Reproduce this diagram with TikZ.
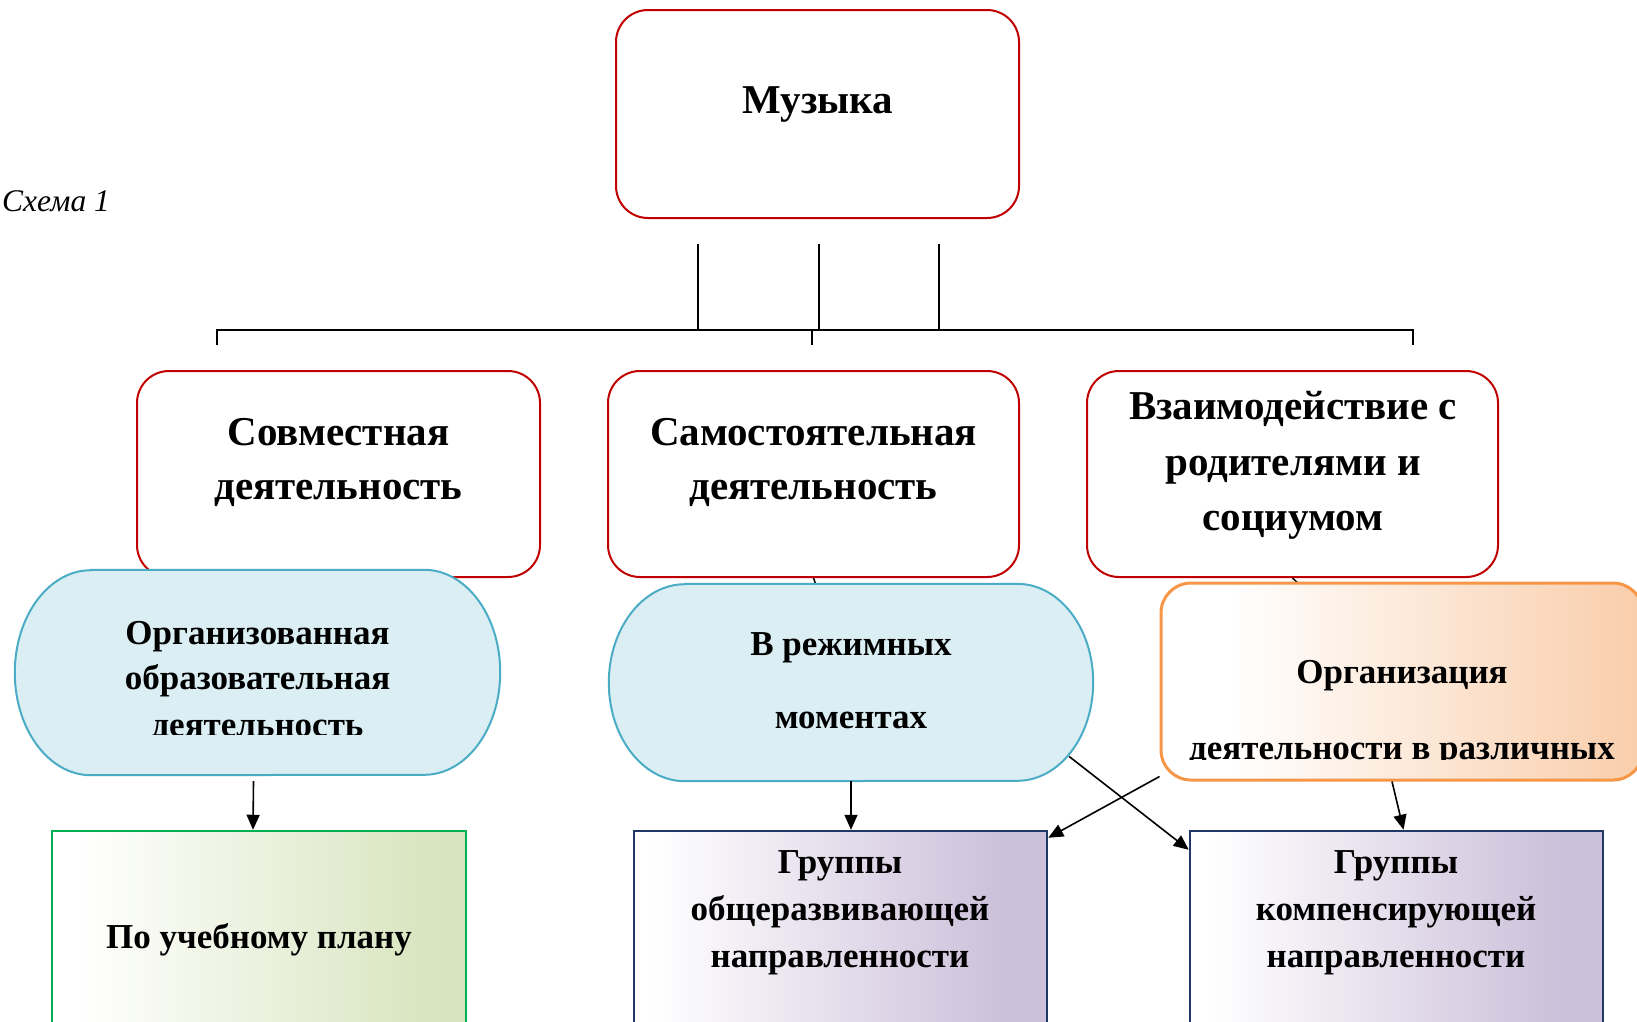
\documentclass[tikz,border=0pt]{standalone}
\usepackage{fontspec}
\setmainfont{Liberation Serif}
\usetikzlibrary{arrows.meta}
\definecolor{rd}{HTML}{C00000}
\definecolor{bluefill}{HTML}{DAEEF3}
\definecolor{blueline}{HTML}{4BACC6}
\definecolor{orline}{HTML}{F79646}
\definecolor{orfill}{HTML}{F9CCA8}
\definecolor{grline}{HTML}{00B050}
\definecolor{grfill}{HTML}{D7E4BD}
\definecolor{puline}{HTML}{1F3864}
\definecolor{pufill}{HTML}{CCC0DA}
\pgfdeclarehorizontalshading{grshade}{100bp}{color(0bp)=(white); color(28bp)=(white); color(72bp)=(grfill); color(100bp)=(grfill)}
\pgfdeclarehorizontalshading{pushade}{100bp}{color(0bp)=(white); color(27bp)=(white); color(70bp)=(pufill); color(100bp)=(pufill)}
\pgfdeclarehorizontalshading{orshade}{100bp}{color(0bp)=(white); color(32bp)=(white); color(76bp)=(orfill); color(100bp)=(orfill)}
\tikzset{
  redbox/.style={draw=rd, line width=2pt, rounded corners=32pt, fill=white, inner sep=0pt},
  stad/.style={draw=blueline, line width=2pt, fill=bluefill},
  orbox/.style={draw=orline, line width=3pt, rounded corners=30pt, shading=orshade, inner sep=0pt},
  grbox/.style={draw=grline, line width=2.5pt, shading=grshade, inner sep=0pt},
  pubox/.style={draw=puline, line width=2.5pt, shading=pushade, inner sep=0pt},
  hd/.style={font=\fontsize{41}{50}\selectfont\bfseries, anchor=base, inner sep=0pt},
  sm/.style={font=\fontsize{35}{42}\selectfont\bfseries, anchor=base, inner sep=0pt},
  conn/.style={draw=black, line width=2pt},
  arr/.style={draw=black, line width=1.6pt, -{Triangle[length=15pt,width=13pt]}},
  ghost/.style={inner sep=0pt}
}
\newcommand\stadpath[3]{% node, rx, ry
  \draw[stad] ([xshift=#2]#1.north west) -- ([xshift=-#2]#1.north east)
    arc[start angle=90,end angle=-90,x radius=#2,y radius=#3]
    -- ([xshift=#2]#1.south west)
    arc[start angle=270,end angle=90,x radius=#2,y radius=#3] -- cycle;}
\begin{document}
\begin{tikzpicture}[x=1pt,y=-1pt]
\clip (0,0) rectangle (1637,1021);
\fill[white] (0,0) rectangle (1637,1021);

% top box
\node[redbox, minimum width=403pt, minimum height=208pt] (muz) at (817.5,114) {};
\node[hd] (muzT) at (818,113) {Музыка};

\node[font=\fontsize{31.5}{36}\selectfont\itshape, anchor=base west, inner sep=0pt] (schema) at (2,211) {Схема 1};

% bus
\coordinate (v1) at (698,244);
\coordinate (v2) at (819,244);
\coordinate (v3) at (939,244);
\coordinate (busL) at (217,330);
\coordinate (busM) at (812,330);
\coordinate (busR) at (1413,330);
\draw[conn] (v1) -- (v1 |- busL);
\draw[conn] (v2) -- (v2 |- busL);
\draw[conn] (v3) -- (v3 |- busL);
\draw[conn] ([shift={(0,15)}]busL) -- (busL) -- (busR) -- ([shift={(0,15)}]busR);
\draw[conn] (busM) -- ([shift={(0,15)}]busM);

% second row
\node[redbox, minimum width=403pt, minimum height=206pt] (sov) at (338.5,474) {};
\node[hd] (sovT1) at (338.5,445) {Совместная};
\node[hd] (sovT2) at (338.5,499) {деятельность};

\node[redbox, minimum width=411pt, minimum height=206pt] (sam) at (813.5,474) {};
\node[hd] (samT1) at (813.5,445) {Самостоятельная};
\node[hd] (samT2) at (813.5,499) {деятельность};

\node[redbox, minimum width=411pt, minimum height=206pt] (vz) at (1292.5,474) {};
\node[hd] (vzT1) at (1293,419) {Взаимодействие с};
\node[hd] (vzT2) at (1293,475) {родителями и};
\node[hd] (vzT3) at (1293,530) {социумом};

% hidden stubs
\coordinate (stubA) at (851,682);
\coordinate (stubB) at (1402,682);
\draw[line width=1.5pt] (sam.south) -- (stubA);
\draw[line width=1.5pt] (vz.south) -- (stubB);

% third row
\node[ghost, minimum width=485pt, minimum height=205pt] (st1) at (257.5,672.5) {};
\stadpath{st1}{76pt}{102.5pt}
\node[ghost, minimum width=484pt, minimum height=197pt] (st2) at (851,682.5) {};
\stadpath{st2}{76pt}{98.5pt}
\node[orbox, minimum width=482pt, minimum height=197pt] (org) at (1402,681.5) {};

\node[sm] (st1T1) at (257.5,644) {Организованная};
\node[sm] (st1T2) at (257.5,689) {образовательная};
\begin{scope}
\clip (0,0) rectangle (1637,734.5);
\node[sm] (st1T3) at (257.5,736) {деятельность};
\end{scope}
\node[sm] (st2T1) at (851,655) {В режимных};
\node[sm] (st2T2) at (851,728) {моментах};
\node[sm] (orgT1) at (1402,683) {Организация};
\begin{scope}
\clip (0,0) rectangle (1637,759);
\node[sm] (orgT2) at (1402,759) {деятельности в различных};
\end{scope}

% bottom row
\node[grbox, minimum width=414pt, minimum height=279pt] (green) at (259,970.5) {};
\node[sm] (greenT) at (259,948) {По учебному плану};
\node[pubox, minimum width=413pt, minimum height=279pt] (pur1) at (840.5,970.5) {};
\node[sm] (pur1T1) at (840,873) {Группы};
\node[sm] (pur1T2) at (840,920) {общеразвивающей};
\node[sm] (pur1T3) at (840,967) {направленности};
\node[pubox, minimum width=413pt, minimum height=279pt] (pur2) at (1396.5,970.5) {};
\node[sm] (pur2T1) at (1396,873) {Группы};
\node[sm] (pur2T2) at (1396,920) {компенсирующей};
\node[sm] (pur2T3) at (1396,967) {направленности};

% arrows
\draw[arr] ([shift={(-4,6)}]st1.south) -- ([xshift=-6pt]green.north);
\draw[arr] (st2.south) -- (st2.south |- pur1.north);
\draw[arr] ([shift={(-24,74)}]st2.east) -- ([shift={(0,20)}]pur2.north west);
\draw[arr] ([shift={(0,-5)}]org.south west) -- ([shift={(0,8)}]pur1.north east);
\draw[arr] ([xshift=-10pt]org.south) -- ([xshift=7pt]pur2.north);
\end{tikzpicture}
\end{document}
